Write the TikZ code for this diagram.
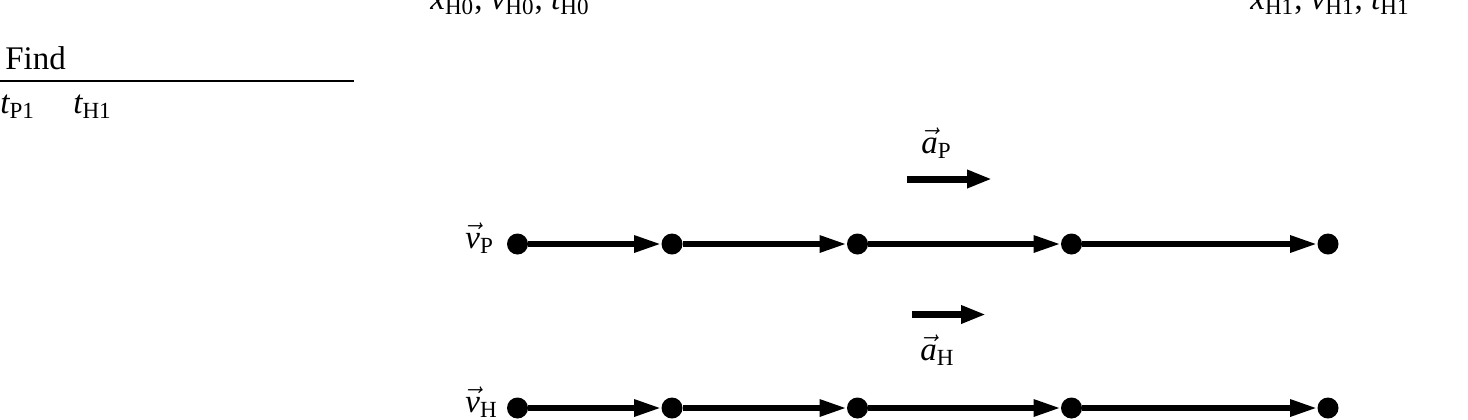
\documentclass[tikz,border=0pt]{standalone}
\usepackage{amsmath}
\usepackage{fontspec}
\setmainfont{Liberation Serif}
\usetikzlibrary{arrows.meta}
\newcommand\myqty[2]{\ensuremath{\text{\itshape #1}_{\text{\upshape #2}}}}
\newcommand\myvqty[2]{\ensuremath{\vec{\text{\itshape #1}}_{\text{\upshape #2}}}}
\begin{document}
\begin{tikzpicture}[x=0.5pt,y=-0.5pt,
  lbl/.style={inner sep=0pt, anchor=base west, font=\fontsize{16.5pt}{19pt}\selectfont},
  dot/.style={circle, fill=black, inner sep=0pt, minimum size=10.5pt},
  rowarrow/.style={line width=2.9pt, -{Triangle[length=13.5pt,width=8pt]}},
  accarrow/.style={line width=3.5pt, -{Triangle[length=12.5pt,width=8.5pt]}},
  rule/.style={line width=1pt}
]
\useasboundingbox (0,0) rectangle (1468,419);

% top (cut) labels
\node[lbl] (known0) at (430,9) {\myqty{x}{H0}, \myqty{v}{H0}, \myqty{t}{H0}};
\node[lbl] (known1) at (1250,9) {\myqty{x}{H1}, \myqty{v}{H1}, \myqty{t}{H1}};

% Find list
\node[lbl] (find) at (5,69) {Find};
\coordinate (ruleL) at (0,80.7);
\coordinate (ruleR) at (354,80.7);
\draw[rule] (ruleL) -- (ruleR);
\node[lbl] (tp1) at (0,113) {\myqty{t}{P1}};
\node[lbl] (th1) at (73,113) {\myqty{t}{H1}};

% P row
\node[lbl] (vP) at (465,248) {\myvqty{v}{P}};
\node[dot] (p1) at (517.5,244) {};
\node[dot] (p2) at (672,244) {};
\node[dot] (p3) at (857.5,244) {};
\node[dot] (p4) at (1071.5,244) {};
\node[dot] (p5) at (1328,244) {};
\draw[rowarrow] (p1) -- (p2);
\draw[rowarrow] (p2) -- (p3);
\draw[rowarrow] (p3) -- (p4);
\draw[rowarrow] (p4) -- (p5);

% H row
\node[lbl] (vH) at (465,412) {\myvqty{v}{H}};
\node[dot] (h1) at (517.5,408) {};
\node[dot] (h2) at (672,408) {};
\node[dot] (h3) at (857.5,408) {};
\node[dot] (h4) at (1071.5,408) {};
\node[dot] (h5) at (1328,408) {};
\draw[rowarrow] (h1) -- (h2);
\draw[rowarrow] (h2) -- (h3);
\draw[rowarrow] (h3) -- (h4);
\draw[rowarrow] (h4) -- (h5);

% accelerations
\node[lbl] (aP) at (921,153) {\myvqty{a}{P}};
\coordinate (aPs) at (907,179);
\coordinate (aPe) at (992,179);
\draw[accarrow] (aPs) -- (aPe);

\coordinate (aHs) at (912,314.5);
\coordinate (aHe) at (986,314.5);
\draw[accarrow] (aHs) -- (aHe);
\node[lbl] (aH) at (920,360) {\myvqty{a}{H}};
\end{tikzpicture}
\end{document}
